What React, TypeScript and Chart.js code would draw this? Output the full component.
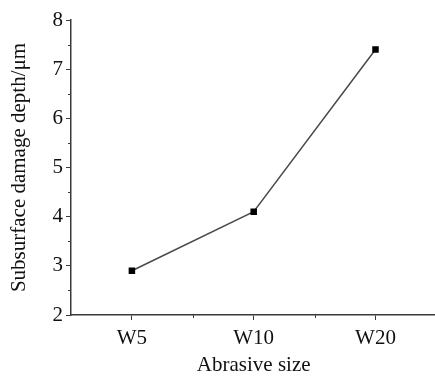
import React, { useEffect, useRef } from "react";
import { Chart, registerables } from "chart.js";

Chart.register(...registerables);

const categories = ["W5", "W10", "W20"];
const depthValues = [2.9, 4.1, 7.4];
const yTicks = [2, 3, 4, 5, 6, 7, 8];
const yMinorTicks = [2.5, 3.5, 4.5, 5.5, 6.5, 7.5];

const AXIS_COLOR = "#3a3a3a";
const FONT_FAMILY = "'Liberation Serif', 'Times New Roman', serif";

const minorTicksPlugin = {
  id: "minorTicks",
  afterDraw(chart: any) {
    const { ctx, scales } = chart;
    const x = scales.x;
    const y = scales.y;
    ctx.save();
    ctx.strokeStyle = AXIS_COLOR;
    ctx.lineWidth = 1;
    for (const v of yMinorTicks) {
      const py = Math.round(y.getPixelForValue(v)) + 0.5;
      ctx.beginPath();
      ctx.moveTo(y.right - 3, py);
      ctx.lineTo(y.right, py);
      ctx.stroke();
    }
    for (let i = 0; i < categories.length - 1; i++) {
      const px = Math.round((x.getPixelForValue(i) + x.getPixelForValue(i + 1)) / 2) + 0.5;
      ctx.beginPath();
      ctx.moveTo(px, x.top);
      ctx.lineTo(px, x.top + 3);
      ctx.stroke();
    }
    ctx.restore();
  },
};

export default function App() {
  const canvasRef = useRef<HTMLCanvasElement | null>(null);

  useEffect(() => {
    if (!canvasRef.current) return;
    const chart = new Chart(canvasRef.current, {
      type: "line",
      data: {
        labels: categories,
        datasets: [
          {
            data: depthValues,
            borderColor: "#4a4a4a",
            borderWidth: 1.5,
            pointStyle: "rect",
            pointRadius: 4.6,
            pointBackgroundColor: "#000",
            pointBorderColor: "#000",
            pointBorderWidth: 0,
            tension: 0,
          },
        ],
      },
      options: {
        animation: false,
        responsive: false,
        devicePixelRatio: 1,
        layout: { padding: { top: 20, right: 0, left: 0, bottom: 0 } },
        plugins: {
          legend: { display: false },
          tooltip: { enabled: false },
        },
        scales: {
          x: {
            type: "category",
            offset: true,
            grid: {
              offset: false,
              drawOnChartArea: false,
              drawTicks: true,
              tickLength: 5,
              color: AXIS_COLOR,
              tickWidth: 1,
            },
            border: { display: true, color: AXIS_COLOR, width: 1.5 },
            ticks: {
              color: "#111",
              padding: 6,
              font: { family: FONT_FAMILY, size: 21 },
              maxRotation: 0,
            },
            title: {
              display: true,
              text: "Abrasive size",
              color: "#111",
              font: { family: FONT_FAMILY, size: 21, lineHeight: 1.2 },
              padding: { top: 0, bottom: -2 },
            },
            afterFit(scale: any) {
              scale.height = 61;
            },
          },
          y: {
            type: "linear",
            min: 2,
            max: 8,
            afterBuildTicks(scale: any) {
              scale.ticks = yTicks.map((v) => ({ value: v }));
            },
            grid: {
              drawOnChartArea: false,
              drawTicks: true,
              tickLength: 5,
              color: AXIS_COLOR,
              tickWidth: 1,
            },
            border: { display: true, color: AXIS_COLOR, width: 1.5 },
            ticks: {
              color: "#111",
              padding: 3,
              font: { family: FONT_FAMILY, size: 21 },
            },
            title: {
              display: true,
              text: "Subsurface damage depth/μm",
              color: "#111",
              font: { family: FONT_FAMILY, size: 21, lineHeight: 1.2 },
              padding: { top: 7, bottom: 0 },
            },
            afterFit(scale: any) {
              scale.width = 71;
            },
          },
        },
      },
      plugins: [minorTicksPlugin],
    });
    return () => chart.destroy();
  }, []);

  return (
    <div
      style={{
        position: "fixed",
        left: 0,
        top: 0,
        width: 435,
        height: 376,
        overflow: "hidden",
        background: "#fff",
      }}
    >
      <canvas ref={canvasRef} width={441} height={376} style={{ display: "block" }} />
    </div>
  );
}
